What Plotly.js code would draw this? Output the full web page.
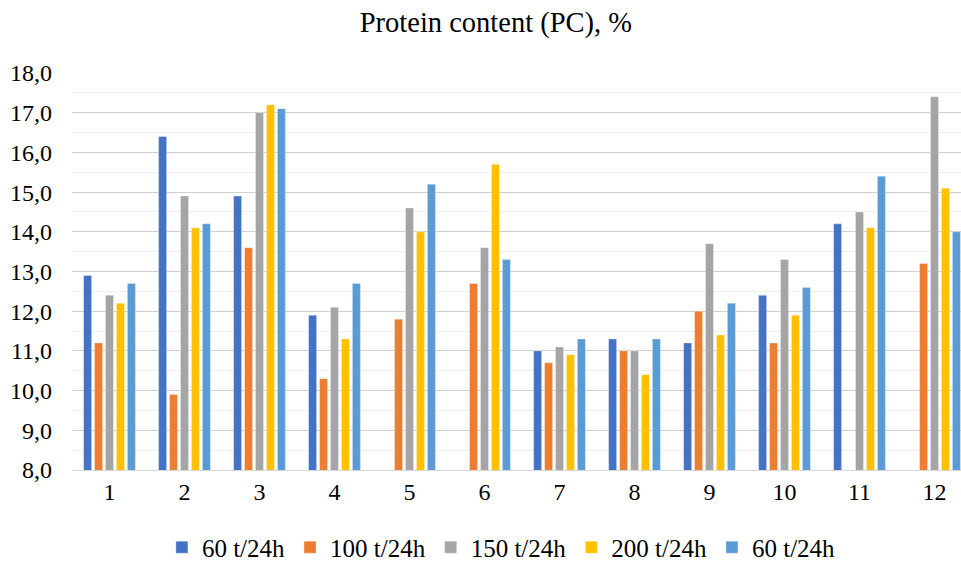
<!DOCTYPE html>
<html>
<head>
<meta charset="utf-8">
<script src="https://cdn.plot.ly/plotly-3.0.1.min.js"></script>
<style>html,body{margin:0;padding:0;background:#fff;}#chart{width:961px;height:571px;}</style>
</head>
<body>
<div id="chart"></div>
<script>
const categories = [1,2,3,4,5,6,7,8,9,10,11,12];
const tickLabels = ['1','2','3','4','5','6','7','8','9','10','11','12'];
const seriesNames = ['60 t/24h','100 t/24h','150 t/24h','200 t/24h','60 t/24h'];
const s60a  = [12.9, 16.4, 14.9, 11.9, null, null, 11.0, 11.3, 11.2, 12.4, 14.2, null];
const s100  = [11.2,  9.9, 13.6, 10.3, 11.8, 12.7, 10.7, 11.0, 12.0, 11.2, null, 13.2];
const s150  = [12.4, 14.9, 17.0, 12.1, 14.6, 13.6, 11.1, 11.0, 13.7, 13.3, 14.5, 17.4];
const s200  = [12.2, 14.1, 17.2, 11.3, 14.0, 15.7, 10.9, 10.4, 11.4, 11.9, 14.1, 15.1];
const s60b  = [12.7, 14.2, 17.1, 12.7, 15.2, 13.3, 11.3, 11.3, 12.2, 12.6, 15.4, 14.0];
const colors = ['#4472C4','#ED7D31','#A5A5A5','#FFC000','#5B9BD5'];
const allSeries = [s60a, s100, s150, s200, s60b];

const data = allSeries.map((vals, i) => ({
  type: 'bar',
  name: seriesNames[i],
  x: categories,
  y: vals,
  marker: {color: colors[i], line: {color: 'rgba(255,255,255,0.6)', width: 0.5}},
  hoverinfo: 'x+y+name'
}));

const FAM = 'Liberation Serif';

const layout = {
  width: 961, height: 571,
  paper_bgcolor: '#fff', plot_bgcolor: '#fff',
  font: {family: FAM, size: 22, color: '#000'},
  margin: {l: 72, r: 0, t: 73, b: 98},
  separators: ',.',
  title: {text: 'Protein content (PC), %', font: {family: FAM, size: 28.5, color: '#000'}, x: 0.516, xanchor: 'center', y: 0.962, yanchor: 'middle'},
  barmode: 'group',
  bargap: 0.27,
  bargroupgap: 0.27,
  showlegend: true,
  legend: {orientation: 'h', x: 0.483, xanchor: 'center', y: -0.195, yanchor: 'middle', font: {family: FAM, size: 25, color: '#000'}, traceorder: 'normal', itemwidth: 30},
  xaxis: {
    range: [0.5, 12.353],
    tickmode: 'array', tickvals: categories, ticktext: tickLabels,
    tickfont: {family: FAM, size: 24, color: '#000'},
    showgrid: false, zeroline: false,
    showline: true, linecolor: '#d9d9d9', linewidth: 1,
    ticks: '', ticklen: 0
  },
  yaxis: {
    range: [8, 18],
    dtick: 1, tick0: 8,
    tickformat: '.1f',
    tickfont: {family: FAM, size: 24, color: '#000'},
    showgrid: true, gridcolor: '#d0d0d0', gridwidth: 1,
    minor: {dtick: 0.5, showgrid: true, gridcolor: '#efefef', gridwidth: 1},
    zeroline: false, showline: false,
    ticks: '', ticklabelstandoff: 19
  }
};

Plotly.newPlot('chart', data, layout, {displayModeBar: false, staticPlot: true});
</script>
</body>
</html>
